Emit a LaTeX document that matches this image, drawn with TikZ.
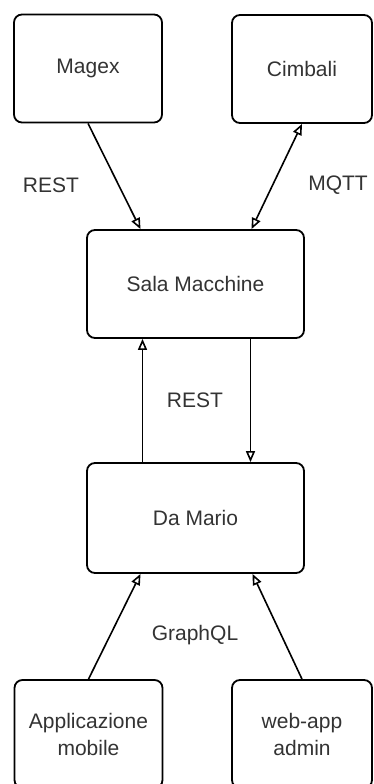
\documentclass[tikz,border=0pt]{standalone}
\usepackage{fontspec}
\setmainfont{Liberation Sans}
\usetikzlibrary{arrows.meta}

\begin{document}
\begin{tikzpicture}[x=1pt,y=1pt,
	box/.style={draw,line width=1.8pt,rounded corners=8pt,minimum height=108pt,
		align=center,text=black!80,font=\fontsize{21}{27}\selectfont},
	smallbox/.style={box,minimum width=148pt},
	bigbox/.style={box,minimum width=217pt},
	lbl/.style={text=black!80,font=\fontsize{21}{27}\selectfont},
	link/.style={line width=1.6pt,-{Triangle[open,length=11pt,width=9pt]}},
	both/.style={link,{Triangle[open,length=11pt,width=9pt]}-{Triangle[open,length=11pt,width=9pt]}}]
	\useasboundingbox[fill=white] (0,0) rectangle (373,-784);
	\node[smallbox] at (88,-68.5) (magex) {Magex};
	\node[smallbox,minimum width=140pt] at (302,-69) (cimbali) {Cimbali};
	\node[bigbox] at (195.5,-284) (sala) {Sala Macchine};
	\node[bigbox,minimum height=110pt] at (195.5,-518) (mario) {Da Mario};
	\node[smallbox] at (88.5,-734) (app) {Applicazione\\mobile};
	\node[smallbox,minimum width=140pt] at (302,-734) (web) {web-app\\admin};
	\draw[link] (magex.south) -- ([xshift=-55pt]sala.north);
	\draw[both] ([xshift=56pt]sala.north) -- (cimbali.south);
	\draw[link] ([xshift=55pt]sala.south) -- ([xshift=55pt]mario.north);
	\draw[link] ([xshift=-53pt]mario.north) -- ([xshift=-53pt]sala.south);
	\draw[link] (app.north) -- ([xshift=-55pt]mario.south);
	\draw[link] (web.north) -- ([xshift=57pt]mario.south);
	\node[lbl] at (51,-185) (rest1) {REST};
	\node[lbl] at (338,-185) (mqtt) {MQTT};
	\node[lbl] at (195,-400) (rest2) {REST};
	\node[lbl] at (195,-635) (gql) {GraphQL};
\end{tikzpicture}
\end{document}
